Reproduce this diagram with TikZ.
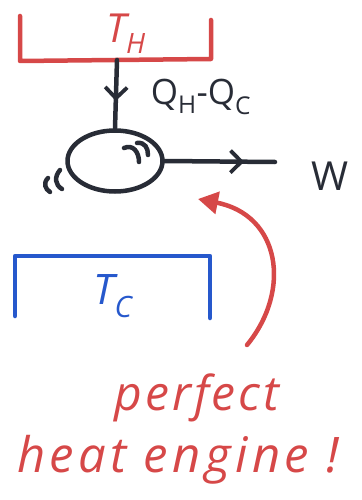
\documentclass[tikz,border=0pt]{standalone}
\usepackage{fontspec}
\setsansfont{Open Sans}
\usetikzlibrary{arrows.meta,shapes.geometric,decorations.markings}

\definecolor{penred}{RGB}{214,72,72}
\definecolor{penblue}{RGB}{38,88,204}
\definecolor{penblack}{RGB}{40,44,54}

\tikzset{
  pen/.style={line width=4.5pt,line cap=round,line join=round},
  midarrow/.style={postaction={decorate},decoration={markings,
    mark=at position #1 with {\arrow[line width=3.8pt]{Straight Barb[length=11pt,width=22pt]}}}},
  label/.style={font=\sffamily\itshape}
}

\begin{document}
\begin{tikzpicture}[x=1pt,y=-1pt]
\useasboundingbox (0,0) rectangle (361,500);
% hot reservoir
\draw[pen,penred] (20,16) -- (20,61) -- (211,59) -- (211,20);
\node[penred,font=\sffamily\itshape\fontsize{40}{40}\selectfont] (hot) at (126,34) {T\textsubscript{H}};
\coordinate (hotout) at (117,60);
% engine
\node[pen,draw=penblack,ellipse,minimum width=95,minimum height=61] (engine) at (115,161) {};
\draw[pen,penblack] (124,148) .. controls (133,144) and (139,152) .. (139,162);
\draw[pen,penblack] (137,143) .. controls (145,142) and (148,148) .. (148,155);
\draw[pen,penblack] (60,170) .. controls (54,177) and (55,185) .. (62,189);
\draw[pen,penblack] (48,178) .. controls (43,183) and (45,189) .. (50,192);
\draw[pen,penblack,midarrow=0.6] (hotout) -- (engine.north);
\node[penblack,font=\sffamily\fontsize{35}{35}\selectfont] (heat) at (201,97) {Q\textsubscript{H}-Q\textsubscript{C}};
% work out
\coordinate (workend) at (275,162);
\draw[pen,penblack,midarrow=0.72] (engine.east) -- (workend);
\node[penblack,font=\sffamily\fontsize{40}{40}\selectfont] (work) at (330,176) {W};
% cold reservoir
\draw[pen,penblue] (15,316) -- (15,256) -- (210,256) -- (210,318);
\node[penblue,font=\sffamily\itshape\fontsize{42}{42}\selectfont] (cold) at (113,296) {T\textsubscript{C}};
% comment
\node[penred,font=\sffamily\itshape\fontsize{48}{48}\selectfont\addfontfeature{LetterSpace=6}] (perfect) at (197,398) {perfect};
\node[penred,font=\sffamily\itshape\fontsize{49}{49}\selectfont\addfontfeature{LetterSpace=9}] (engname) at (178,460) {heat engine !};
\coordinate (pointfrom) at (247,345);
\coordinate (pointto) at (198,199);
\draw[pen,penred,-{Triangle[length=20pt,width=22pt]}] (pointfrom) .. controls (292,290) and (280,215) .. (pointto);
\end{tikzpicture}
\end{document}
